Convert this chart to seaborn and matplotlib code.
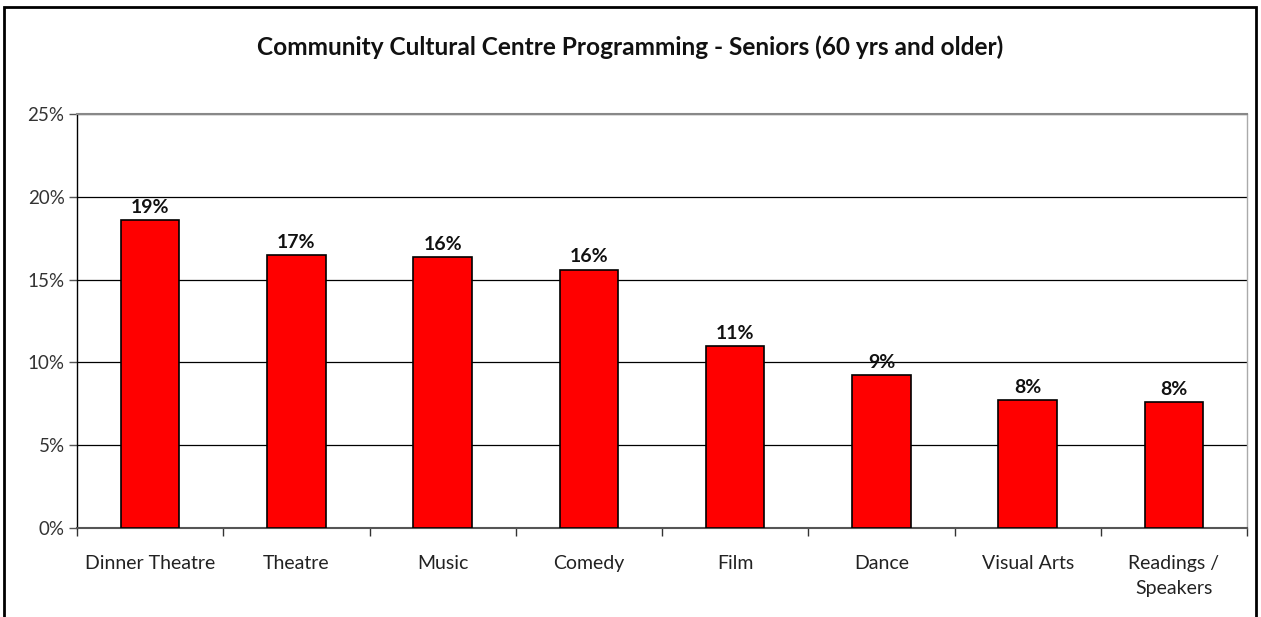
import matplotlib
matplotlib.use("Agg")
import matplotlib.pyplot as plt
from matplotlib.patches import Rectangle
from matplotlib.ticker import FixedLocator, PercentFormatter
import seaborn as sns
import pandas as pd

categories = ["Dinner Theatre", "Theatre", "Music", "Comedy", "Film",
              "Dance", "Visual Arts", "Readings /\nSpeakers"]
shares = [18.6, 16.5, 16.35, 15.6, 11.0, 9.2, 7.7, 7.6]
labels = ["19%", "17%", "16%", "16%", "11%", "9%", "8%", "8%"]
title = "Community Cultural Centre Programming - Seniors (60 yrs and older)"

sns.set_theme(style="white")
plt.rcParams["font.family"] = ["Lato", "DejaVu Sans"]

df = pd.DataFrame({"category": categories, "share": shares})

fig = plt.figure(figsize=(12.61, 6.17), dpi=100)
ax = fig.add_axes([0.0611, 0.1447, 0.9278, 0.6705])

sns.barplot(data=df, x="category", y="share", color="#ff0000",
            saturation=1, width=0.4, edgecolor="black", linewidth=1.2,
            ax=ax, zorder=3)

ax.set_ylim(0, 25)
ax.set_xlim(-0.5, len(categories) - 0.5)
ax.yaxis.set_major_locator(FixedLocator([0, 5, 10, 15, 20, 25]))
ax.yaxis.set_major_formatter(PercentFormatter(decimals=0))
ax.grid(axis="y", color="black", linewidth=0.9, zorder=0)
ax.grid(axis="x", visible=False)

ax.set_xlabel("")
ax.set_ylabel("")
ax.tick_params(axis="x", which="major", length=0, pad=20, labelsize=14,
               colors="#222222")
for lab in ax.get_xticklabels():
    lab.set_linespacing(1.55)
ax.set_xticks([i + 0.5 for i in range(-1, len(categories))], minor=True)
ax.tick_params(axis="x", which="minor", length=6, width=1, color="#333333",
               direction="out", bottom=True)
ax.tick_params(axis="y", length=6, width=1, color="#555555", direction="out",
               left=True, labelsize=13.5, labelcolor="#333333", pad=3)

for side, col in [("left", "black"), ("bottom", "#555555"),
                  ("top", "#888888"), ("right", "#aaaaaa")]:
    ax.spines[side].set_visible(True)
    ax.spines[side].set_color(col)
    ax.spines[side].set_linewidth(1.5 if side in ("bottom", "top") else 1.0)

for bar, text in zip(ax.patches, labels):
    ax.annotate(text, (bar.get_x() + bar.get_width() / 2, bar.get_height()),
                xytext=(0, 3), textcoords="offset points", ha="center",
                va="bottom", fontsize=14, fontweight="bold", color="#111111")

fig.text(0.5, 1 - 47 / 617, title, ha="center", va="center",
         fontsize=17.6, fontweight="bold", color="#111111")

# chart frame around the whole figure
fig.patches.append(Rectangle((4 / 1261, -0.05), 1252 / 1261, 1.05 - 7 / 617,
                             transform=fig.transFigure, fill=False,
                             edgecolor="black", linewidth=2))

fig.savefig("out.png", dpi=100, facecolor="white")
